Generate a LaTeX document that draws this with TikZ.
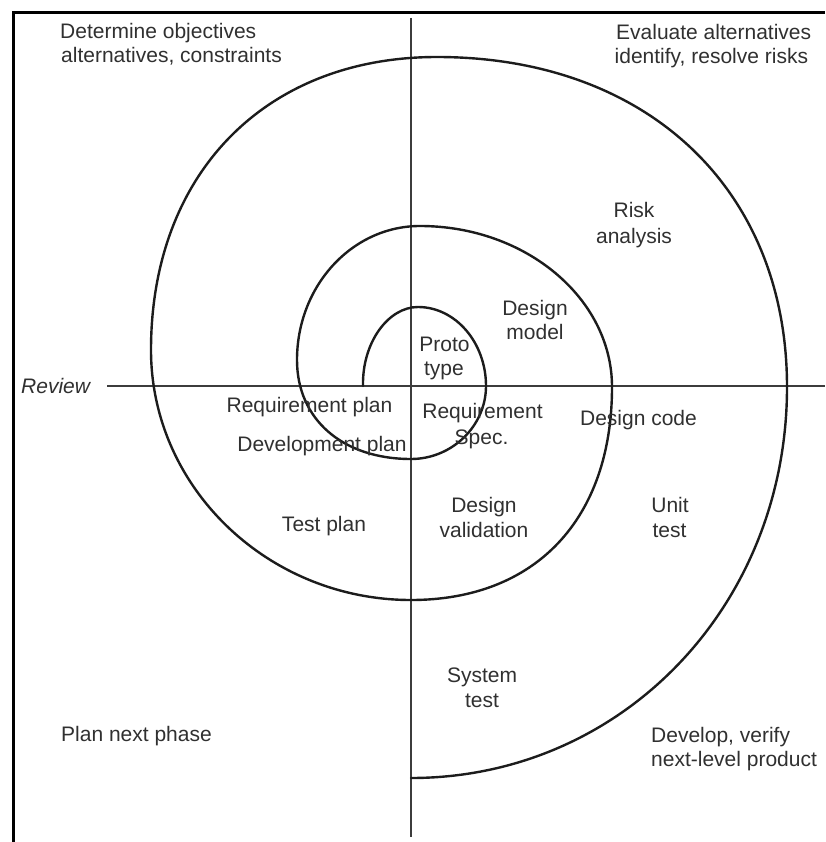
\documentclass[tikz,border=0pt]{standalone}
\usepackage{fontspec}
\setmainfont{Liberation Sans}
\definecolor{txt}{HTML}{303030}
\definecolor{spiralc}{HTML}{1C1C1C}
\definecolor{axisc}{HTML}{3C3C3C}
\begin{document}
\begin{tikzpicture}[x=1pt,y=-1pt,
  lbl/.style={inner sep=0pt, text=txt, font=\fontsize{21}{24}\selectfont},
  axisline/.style={draw=axisc, line width=1.6pt},
  spiralline/.style={draw=spiralc, line width=2.4pt, line join=round, line cap=round},
  framelinec/.style={draw=black, line width=3pt}]
\useasboundingbox (0,0) rectangle (825,842);
% frame (top and left only)
\draw[framelinec] (13,842) -- (13,12.5) -- (825,12.5);
% axes
\coordinate (vtop) at (411,18);
\coordinate (vbot) at (411,837);
\coordinate (hl) at (107,386);
\coordinate (hr) at (825,386);
\draw[axisline] (vtop) -- (vbot);
\draw[axisline] (hl) -- (hr);
% spiral
\coordinate (sp0) at (363,386);
\coordinate (sp1) at (418,307);
\coordinate (sp2) at (486,386);
\coordinate (sp3) at (411,459);
\coordinate (sp4) at (297,360);
\coordinate (sp5) at (420,226);
\coordinate (sp6) at (612,387);
\coordinate (sp7) at (411,600);
\coordinate (sp8) at (151,350);
\coordinate (sp9) at (437,57);
\coordinate (sp10) at (787,387);
\coordinate (sp11) at (411,778);
\draw[spiralline] (sp0)
 .. controls (362,343) and (388,307) .. (sp1)
 .. controls (455.4,307) and (486,342.5) .. (sp2)
 .. controls (486,426) and (452,459) .. (sp3)
 .. controls (342.6,459) and (297,419.4) .. (sp4)
 .. controls (297,286) and (352,226) .. (sp5)
 .. controls (525.6,226) and (612,298.4) .. (sp6)
 .. controls (612,519) and (535.6,600) .. (sp7)
 .. controls (268,600) and (151,487.5) .. (sp8)
 .. controls (151,174) and (265,57) .. (sp9)
 .. controls (647,57) and (787,189) .. (sp10)
 .. controls (787,606) and (621.6,778) .. (sp11);
% labels
\node[lbl, anchor=base west] (obj1) at (60,39) {Determine objectives};
\node[lbl, anchor=base west] (obj2) at (61,63) {alternatives, constraints};
\node[lbl, anchor=base west] (eva1) at (616,40) {Evaluate alternatives};
\node[lbl, anchor=base west] (eva2) at (614.5,63.5) {identify, resolve risks};
\node[lbl, anchor=base] (risk1) at (634,218) {Risk};
\node[lbl, anchor=base] (risk2) at (634,243) {analysis};
\node[lbl, anchor=base] (dm1) at (535,315) {Design};
\node[lbl, anchor=base] (dm2) at (535,339) {model};
\node[lbl, anchor=base] (pt1) at (444.5,351) {Proto};
\node[lbl, anchor=base] (pt2) at (444,375) {type};
\node[lbl, anchor=base west, font=\fontsize{21}{24}\selectfont\itshape] (rev) at (21,393) {Review};
\node[lbl, anchor=base] (rp) at (309.5,412.5) {Requirement plan};
\node[lbl, anchor=base] (dp) at (322,451) {Development plan};
\node[lbl, anchor=base] (rs1) at (482.5,418.5) {Requirement};
\node[lbl, anchor=base] (rs2) at (481.5,444) {Spec.};
\node[lbl, anchor=base] (dc) at (638.5,425.5) {Design code};
\node[lbl, anchor=base] (ut1) at (670,512) {Unit};
\node[lbl, anchor=base] (ut2) at (669.5,537) {test};
\node[lbl, anchor=base] (dv1) at (484,512.5) {Design};
\node[lbl, anchor=base] (dv2) at (484,537) {validation};
\node[lbl, anchor=base] (tp) at (324,531.5) {Test plan};
\node[lbl, anchor=base] (st1) at (482,682) {System};
\node[lbl, anchor=base] (st2) at (482,707) {test};
\node[lbl, anchor=base west] (pnp) at (61,741) {Plan next phase};
\node[lbl, anchor=base west] (dev1) at (651,742) {Develop, verify};
\node[lbl, anchor=base west] (dev2) at (651,766) {next-level product};
\end{tikzpicture}
\end{document}
